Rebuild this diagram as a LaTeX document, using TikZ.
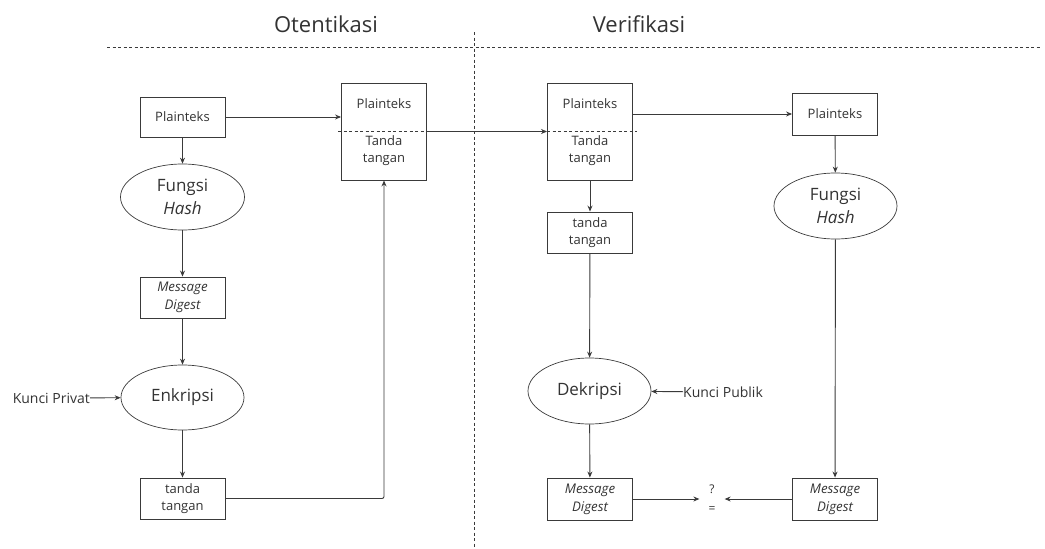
\documentclass[tikz,border=0pt]{standalone}
\usepackage{fontspec}
\setmainfont{Open Sans}
\usetikzlibrary{shapes.geometric,arrows.meta}
\definecolor{ln}{HTML}{3A3A3A}
\definecolor{tx}{HTML}{333333}
\tikzset{
  box/.style={draw=ln, line width=0.9pt, rectangle, minimum width=85pt, inner sep=0pt, text=tx, font=\fontsize{13}{17}\selectfont, align=center},
  oval/.style={draw=ln, line width=0.7pt, ellipse, inner sep=0pt, text=tx, font=\fontsize{17}{23}\selectfont, align=center},
  lbl/.style={text=tx, inner sep=0pt, font=\fontsize{13}{17}\selectfont, align=center},
  keytxt/.style={font=\fontsize{14}{17}\selectfont},
  mdtxt/.style={font=\fontsize{13.3}{18}\selectfont\itshape},
  arr/.style={draw=ln, line width=0.9pt, -{Stealth[length=6pt,width=5pt]}},
  sep/.style={draw=ln, line width=0.8pt, dash pattern=on 3pt off 2.5pt},
  title/.style={text=tx, font=\fontsize{22}{26}\selectfont, inner sep=0pt}
}
\begin{document}
\begin{tikzpicture}[x=1pt,y=-1pt]
\useasboundingbox (0,0) rectangle (1045,549);
% titles and separators
\node[title] (t1) at (326,24) {Otentikasi};
\node[title] (t2) at (639,24) {Verifikasi};
\draw[sep] (107,47) -- (1040,47);
\draw[sep] (474,32) -- (474,549);

% left column
\node[box, minimum height=40pt] (p1) at (182.5,117) {Plainteks};
\node[oval, minimum width=124pt, minimum height=66pt] (h1) at (182.5,197) {Fungsi\\\textit{Hash}};
\node[box, minimum height=41pt, mdtxt] (md1) at (182.5,297.5) {Message\\Digest};
\node[oval, minimum width=123pt, minimum height=65pt] (enk) at (182.5,397.5) {Enkripsi};
\node[lbl, keytxt, anchor=east] (kp) at (90,398) {Kunci Privat};
\node[box, minimum height=41pt] (tt1) at (182.5,498.5) {tanda\\tangan};

% signed message box
\node[box, minimum height=97pt] (b2) at (384,131.5) {};
\node[lbl] (b2a) at (384,104) {Plainteks};
\node[lbl] (b2b) at (384,151) {Tanda\\tangan};
\draw[sep] (338,131) -- (b2.east |- 0,131);

% right column
\node[box, minimum height=97pt] (b3) at (590,131.5) {};
\node[lbl] (b3a) at (590,104) {Plainteks};
\node[lbl] (b3b) at (590,151) {Tanda\\tangan};
\draw[sep] (b3.west |- 0,131) -- (637,131);
\node[box, minimum height=41pt] (tt2) at (590,232.5) {tanda\\tangan};
\node[oval, minimum width=123pt, minimum height=66pt] (dek) at (589.5,391) {Dekripsi};
\node[lbl, keytxt, anchor=west] (kpub) at (683,392) {Kunci Publik};
\node[box, minimum height=42pt, mdtxt] (md2) at (590,499) {Message\\Digest};
\node[lbl, inner xsep=9pt, font=\fontsize{12}{19}\selectfont] (q) at (712,499) {?\\=};

\node[box, minimum height=42pt] (p4) at (835,114) {Plainteks};
\node[oval, minimum width=123pt, minimum height=66pt] (h2) at (835.5,206) {Fungsi\\\textit{Hash}};
\node[box, minimum height=42pt, mdtxt] (md3) at (835,499) {Message\\Digest};

% connectors
\draw[arr] (p1) -- (h1);
\draw[arr] (h1) -- (md1);
\draw[arr] (md1) -- (enk);
\draw[arr] (enk) -- (tt1);
\draw[arr] (kp) -- (enk);
\draw[arr] (p1.east) -- (p1.east -| b2.west);
\draw[arr, rounded corners=2pt] (tt1.east) -| (b2.south);
\draw[arr] (b2.east) -- (b3.west);
\draw[arr] (b3.east |- p4.west) -- (p4.west);
\draw[arr] (b3) -- (tt2);
\draw[arr] (tt2) -- (dek);
\draw[arr] (kpub) -- (dek);
\draw[arr] (dek) -- (md2);
\draw[arr] (md2) -- (q);
\draw[arr] (md3) -- (q);
\draw[arr] (p4) -- (h2);
\draw[arr] (h2) -- (md3);
\end{tikzpicture}
\end{document}
